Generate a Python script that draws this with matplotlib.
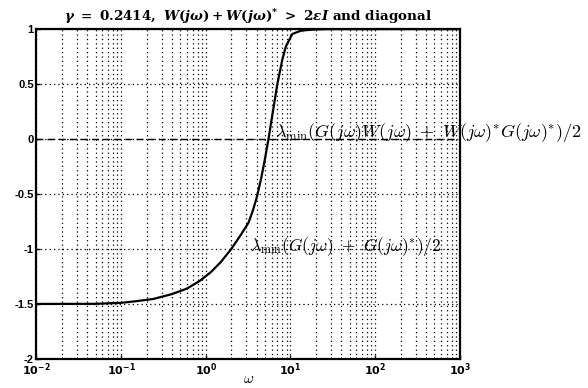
import matplotlib
matplotlib.use("Agg")
import matplotlib.pyplot as plt
import numpy as np

# data
omega = [0.01, 0.05, 0.1, 0.15, 0.24, 0.4, 0.6, 0.85, 1.15, 1.5, 2.0, 2.6, 3.2,
         3.6, 4.0, 4.5, 5.0, 5.5, 6.2, 7.0, 8.0, 8.8, 10.5, 13.0, 15.0, 20.0,
         30.0, 100.0, 1000.0]
lam_G = [-1.5, -1.499, -1.49, -1.475, -1.455, -1.41, -1.36, -1.29, -1.21, -1.12,
         -1.0, -0.87, -0.76, -0.65, -0.53, -0.36, -0.18, 0.0, 0.25, 0.5, 0.72,
         0.84, 0.955, 0.983, 0.99, 0.997, 1.0, 1.0, 1.0]
omega_GW = [0.01, 1000.0]
lam_GW = [0.0, 0.0]

yticks = [1, 0.5, 0, -0.5, -1, -1.5, -2]
ytick_labels = ["1", "0.5", "0", "-0.5", "-1", "-1.5", "-2"]
xticks = [1e-2, 1e-1, 1e0, 1e1, 1e2, 1e3]
xtick_labels = [r"$\mathbf{10^{-2}}$", r"$\mathbf{10^{-1}}$", r"$\mathbf{10^{0}}$",
                r"$\mathbf{10^{1}}$", r"$\mathbf{10^{2}}$", r"$\mathbf{10^{3}}$"]

title_txt = r"$\gamma\ =\ 0.2414,\ W(j\omega)+W(j\omega)^{*}\ >\ 2\epsilon I$ and diagonal"
label_GW = r"$\lambda_{\rm min}(G(j\omega)W(j\omega)\ +\ W(j\omega)^{*}G(j\omega)^{*})/2$"
label_G = r"$\lambda_{\rm min}(G(j\omega)\ +\ G(j\omega)^{*})/2$"

plt.rcParams['mathtext.fontset'] = 'dejavusans'
plt.rcParams['mathtext.rm'] = 'DejaVu Serif:bold'
plt.rcParams['mathtext.it'] = 'DejaVu Serif:italic:bold'
plt.rcParams['mathtext.bf'] = 'DejaVu Serif:bold'

fig = plt.figure(figsize=(5.88, 3.88), dpi=100)
ax = fig.add_axes([0.062, 0.075, 0.72, 0.85])

ax.plot(omega, lam_G, color='black', lw=1.6, zorder=3)
ax.plot(omega_GW, lam_GW, color='black', lw=1.0, dashes=(5, 3), zorder=3)

ax.set_xscale('log')
ax.set_xlim(1e-2, 1e3)
ax.set_ylim(-2, 1)
ax.set_yticks(yticks)
ax.set_yticklabels(ytick_labels, fontsize=8, fontweight='bold', family='Liberation Sans')
ax.set_xticks(xticks)
ax.set_xticklabels(xtick_labels, fontsize=8)
ax.tick_params(direction='in', length=3, width=1, pad=2)
ax.tick_params(which='minor', direction='in', length=1.5)

ax.grid(True, which='major', color='black', linestyle=(0, (1, 2.5)), lw=0.9)
ax.grid(True, which='minor', axis='x', color='black', linestyle=(0, (1, 2.5)), lw=0.9)
for s in ax.spines.values():
    s.set_linewidth(1.6)

ax.set_title(title_txt, fontsize=9.7, fontweight='bold', family='DejaVu Serif',
             math_fontfamily='custom', pad=6)
ax.set_xlabel(r"$\omega$", fontsize=11, labelpad=-5, math_fontfamily='cm')

ax.text(6.5, 0.02, label_GW, fontsize=13, ha='left', va='baseline',
        math_fontfamily='cm', clip_on=False, zorder=4)
ax.text(3.3, -0.98, label_G, fontsize=12.5, ha='left', va='center',
        math_fontfamily='cm', zorder=4)

fig.savefig("out.png", dpi=100)
